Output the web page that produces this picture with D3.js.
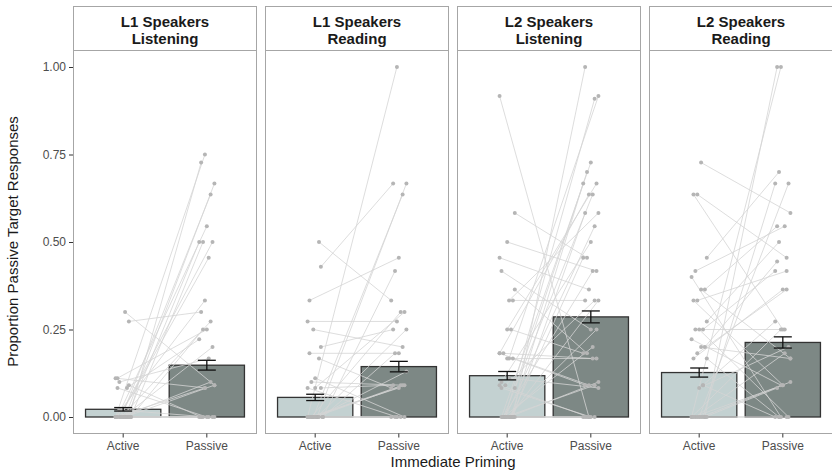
<!DOCTYPE html>
<html>
<head>
<meta charset="utf-8">
<script src="https://cdn.jsdelivr.net/npm/d3@7"></script>
<style>
  body { margin: 0; background: #fff; }
  svg { display: block; font-family: "Liberation Sans", Arial, sans-serif; }
</style>
</head>
<body>
<svg id="chart" width="832" height="472"></svg>
<script>
// facet titles and conditions
const panelTitles = [
	["L1 Speakers", "Listening"],
	["L1 Speakers", "Reading"],
	["L2 Speakers", "Listening"],
	["L2 Speakers", "Reading"]
];
const conditions = ["Active", "Passive"];
const yTicks = [0, 0.25, 0.5, 0.75, 1];

// bar heights (mean) and standard errors, [active, passive]
const barMeans = [[0.022, 0.148], [0.056, 0.144], [0.118, 0.286], [0.127, 0.213]];
const barSE = [[0.005, 0.014], [0.009, 0.015], [0.012, 0.017], [0.013, 0.016]];

// per participant [active, passive]
const l1Listening = [
	[0, 0.75], [0, 0.727], [0, 0.667], [0, 0.636], [0, 0.545], [0, 0.5], [0, 0.5],
	[0.02, 0.5], [0, 0.455], [0, 0.333], [0.273, 0.3], [0.3, 0.091], [0, 0.273],
	[0.111, 0.25], [0, 0.25], [0.083, 0.222], [0, 0.2], [0.1, 0.167], [0.111, 0.083],
	[0.091, 0], [0, 0.091], [0, 0.1], [0.083, 0], [0, 0], [0, 0], [0, 0], [0.02, 0],
	[0, 0.083], [0, 0], [0, 0]
];
const l1Reading = [
	[0, 1.0], [0.429, 0.667], [0, 0.667], [0, 0.636], [0.333, 0.455], [0, 0.417],
	[0.5, 0.333], [0.083, 0.3], [0, 0.3], [0.273, 0.273], [0.2, 0.25], [0, 0.25],
	[0.25, 0.2], [0.182, 0.182], [0, 0.182], [0.167, 0.083], [0.111, 0], [0.1, 0.091],
	[0.083, 0], [0.083, 0.091], [0, 0.13], [0, 0.091], [0, 0.083], [0, 0], [0, 0],
	[0, 0.091], [0, 0], [0, 0]
];
const l2Listening = [
	[0.917, 0], [0, 1.0], [0.167, 0.917], [0, 0.909], [0, 0.727], [0.083, 0.7],
	[0, 0.667], [0.25, 0.667], [0, 0.636], [0.182, 0.636], [0, 0.583], [0.333, 0.583],
	[0, 0.545], [0.1, 0.5], [0.583, 0.455], [0, 0.455], [0.5, 0.417], [0, 0.417],
	[0.455, 0.364], [0.333, 0.333], [0, 0.333], [0.091, 0.333], [0.417, 0.25],
	[0.364, 0.182], [0.25, 0.182], [0.167, 0.167], [0.182, 0.167], [0.182, 0.091],
	[0.167, 0.091], [0.111, 0.083], [0, 0.091], [0.083, 0], [0, 0], [0, 0],
	[0, 0.25], [0, 0.2], [0.091, 0], [0, 0], [0, 0.1], [0, 0]
];
const l2Reading = [
	[0, 1.0], [0, 1.0], [0.727, 0.583], [0.636, 0.455], [0.636, 0.25], [0.455, 0.7],
	[0, 0.667], [0, 0.667], [0.417, 0.545], [0.4, 0], [0.364, 0.545], [0.364, 0.167],
	[0.333, 0.417], [0.333, 0.091], [0.273, 0.5], [0.25, 0.417], [0.25, 0], [0.25, 0.25],
	[0.222, 0.091], [0.2, 0.444], [0.2, 0.167], [0.182, 0.364], [0.167, 0.364],
	[0.167, 0], [0.091, 0.273], [0.083, 0.2], [0, 0.182], [0, 0.25], [0, 0.083],
	[0, 0.1], [0, 0], [0, 0.091], [0, 0], [0.091, 0]
];
const participants = [l1Listening, l1Reading, l2Listening, l2Reading];

const barColors = ["#c3d1d1", "#7d8885"];

const svg = d3.select("#chart");
const stripTop = 6, stripBottom = 50, panelBottom = 433;

const panelX = d3.scaleBand()
	.domain(d3.range(panelTitles.length))
	.range([73, 833])
	.paddingInner(8 / 192);
const w = panelX.bandwidth();

const x = d3.scaleBand()
	.domain(conditions)
	.range([0, w])
	.paddingInner(0.1)
	.paddingOuter(0.15);

const y = d3.scaleLinear().domain([0, 1]).range([417, 67]);

// deterministic horizontal spread of points around the category
const spread = (i, k) => (((i * 7 + k * 3) % 9) - 4) * 1.9;

panelTitles.forEach((title, p) => {
	const g = svg.append("g").attr("transform", `translate(${panelX(p)},0)`);

	// strip
	g.append("rect")
		.attr("x", 0.5).attr("y", stripTop + 0.5)
		.attr("width", w - 1).attr("height", stripBottom - stripTop)
		.attr("fill", "#fff").attr("stroke", "#a6a6a6").attr("stroke-width", 1);
	g.selectAll(".strip-text")
		.data(title)
		.enter().append("text")
			.attr("x", w / 2)
			.attr("y", (d, i) => 27 + i * 17)
			.attr("text-anchor", "middle")
			.attr("font-size", 15)
			.attr("font-weight", "bold")
			.attr("fill", "#1a1a1a")
			.text(d => d);

	// bars
	g.selectAll(".bar")
		.data(conditions)
		.enter().append("rect")
			.attr("x", d => x(d))
			.attr("y", (d, i) => y(barMeans[p][i]))
			.attr("width", x.bandwidth())
			.attr("height", (d, i) => y(0) - y(barMeans[p][i]))
			.attr("fill", (d, i) => barColors[i])
			.attr("stroke", "#333")
			.attr("stroke-width", 1.3);

	// participant lines
	const rows = participants[p];
	const cx = (c, i, k) => x(c) + x.bandwidth() / 2 + spread(i, k);
	g.append("g")
		.selectAll("line")
		.data(rows)
		.enter().append("line")
			.attr("x1", (d, i) => cx("Active", i, 0))
			.attr("y1", d => y(d[0]))
			.attr("x2", (d, i) => cx("Passive", i, 1))
			.attr("y2", d => y(d[1]))
			.attr("stroke", "#d4d4d4")
			.attr("stroke-width", 0.8);

	// participant points
	conditions.forEach((c, k) => {
		g.append("g")
			.selectAll("circle")
			.data(rows)
			.enter().append("circle")
				.attr("cx", (d, i) => cx(c, i, k))
				.attr("cy", d => y(d[k]))
				.attr("r", 2)
				.attr("fill", "#b5b5b5");
	});

	// error bars
	const eb = g.append("g")
		.selectAll("g")
		.data(conditions)
		.enter().append("g")
			.attr("stroke", "#111")
			.attr("stroke-width", 1.3);
	const mid = d => x(d) + x.bandwidth() / 2;
	eb.append("line")
		.attr("x1", mid).attr("x2", mid)
		.attr("y1", (d, i) => y(barMeans[p][i] + barSE[p][i]))
		.attr("y2", (d, i) => y(barMeans[p][i] - barSE[p][i]));
	[1, -1].forEach(s => {
		eb.append("line")
			.attr("x1", d => mid(d) - 9).attr("x2", d => mid(d) + 9)
			.attr("y1", (d, i) => y(barMeans[p][i] + s * barSE[p][i]))
			.attr("y2", (d, i) => y(barMeans[p][i] + s * barSE[p][i]));
	});

	// panel border
	g.append("rect")
		.attr("x", 0.5).attr("y", stripBottom + 0.5)
		.attr("width", w - 1).attr("height", panelBottom - stripBottom)
		.attr("fill", "none").attr("stroke", "#a6a6a6").attr("stroke-width", 1);

	// x axis
	const xAxis = g.append("g")
		.attr("transform", `translate(0,${panelBottom + 0.5})`)
		.call(d3.axisBottom(x).tickSize(4).tickPadding(4));
	xAxis.select(".domain").remove();
	xAxis.selectAll("line").attr("stroke", "#333");
	xAxis.selectAll("text")
		.attr("font-size", 12)
		.attr("fill", "#4d4d4d")
		.attr("font-family", "Liberation Sans, Arial, sans-serif");
});

// y axis on the first panel
const yAxis = svg.append("g")
	.attr("transform", `translate(${panelX(0)},0)`)
	.call(d3.axisLeft(y).tickValues(yTicks).tickFormat(d3.format(".2f")).tickSize(4).tickPadding(3));
yAxis.select(".domain").remove();
yAxis.selectAll("line").attr("stroke", "#333");
yAxis.selectAll("text")
	.attr("font-size", 12)
	.attr("fill", "#4d4d4d")
	.attr("font-family", "Liberation Sans, Arial, sans-serif");

// axis titles
svg.append("text")
	.attr("x", (panelX(0) + panelX(3) + w) / 2)
	.attr("y", 467)
	.attr("text-anchor", "middle")
	.attr("font-size", 15)
	.attr("fill", "#1a1a1a")
	.text("Immediate Priming");

svg.append("text")
	.attr("transform", `translate(18,${(stripBottom + panelBottom) / 2}) rotate(-90)`)
	.attr("text-anchor", "middle")
	.attr("font-size", 15)
	.attr("fill", "#1a1a1a")
	.text("Proportion Passive Target Responses");
</script>
</body>
</html>
